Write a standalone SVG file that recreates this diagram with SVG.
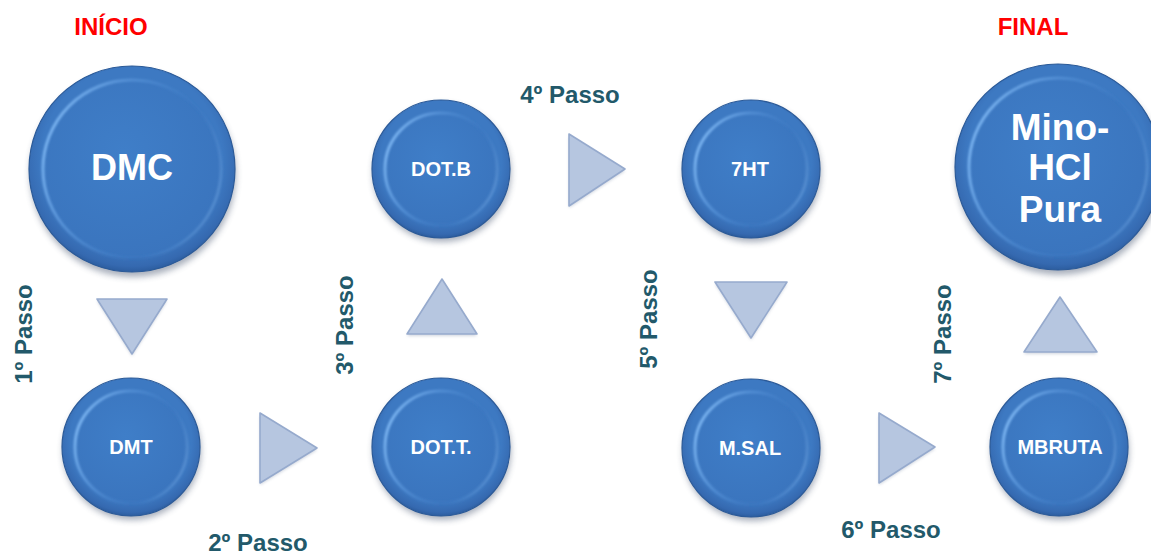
<svg xmlns="http://www.w3.org/2000/svg" width="1151" height="557" viewBox="0 0 1151 557">
  <defs>
    <style>
      .label { font-family: "Liberation Sans", Arial, sans-serif; font-weight: bold; font-size: 24px; fill: #22596a; }
      .title { font-family: "Liberation Sans", Arial, sans-serif; font-weight: bold; font-size: 24px; fill: #ff0000; text-anchor: middle; }
      .node-text { font-family: "Liberation Sans", Arial, sans-serif; font-weight: bold; fill: #ffffff; text-anchor: middle; }
      .small { font-size: 20px; }
      .big { font-size: 36px; }
      .shadow { fill: #40506a; opacity: 0.45; filter: url(#soft); }
      .rim { fill: url(#rimGrad); stroke: #2b5a98; stroke-width: 1.2; }
      .face { fill: url(#faceGrad); }
      .bevel { fill: none; stroke: url(#bevelGrad); stroke-width: 3; filter: url(#blur1); }
      .tri { fill: #b6c6e0; stroke: #96aacd; stroke-width: 1.6; stroke-linejoin: round; }
      .tri-shadow { fill: #7a8aa5; opacity: 0.35; filter: url(#soft2); }
    </style>
    <radialGradient id="rimGrad" cx="0.5" cy="0.45" r="0.55">
      <stop offset="0.8" stop-color="#3d79c2"/>
      <stop offset="0.95" stop-color="#3569b0"/>
      <stop offset="1" stop-color="#2c5d9f"/>
    </radialGradient>
    <radialGradient id="faceGrad" cx="0.45" cy="0.4" r="0.65">
      <stop offset="0" stop-color="#3f7ec8"/>
      <stop offset="1" stop-color="#3a74bd"/>
    </radialGradient>
    <linearGradient id="bevelGrad" x1="0" y1="0.3" x2="1" y2="0.7">
      <stop offset="0" stop-color="#7db6f2"/>
      <stop offset="0.35" stop-color="#5b97dc" stop-opacity="0.6"/>
      <stop offset="0.7" stop-color="#3e7cc6" stop-opacity="0.2"/>
      <stop offset="1" stop-color="#6a9fdc" stop-opacity="0.6"/>
    </linearGradient>
    <filter id="soft" x="-20%" y="-20%" width="140%" height="140%">
      <feGaussianBlur stdDeviation="3"/>
    </filter>
    <filter id="soft2" x="-20%" y="-20%" width="140%" height="140%">
      <feGaussianBlur stdDeviation="1.5"/>
    </filter>
    <filter id="blur1" x="-10%" y="-10%" width="120%" height="120%">
      <feGaussianBlur stdDeviation="0.8"/>
    </filter>
  </defs>

  <rect width="1151" height="557" fill="#ffffff"/>

  <!-- headings -->
  <text class="title" x="111" y="35">INÍCIO</text>
  <text class="title" x="1033" y="35">FINAL</text>

  <!-- step arrows -->
  <g id="connectors">
    <polygon class="tri-shadow" points="97,301 167,301 132,356"/>
    <polygon class="tri" points="97,299 167,299 132,354"/>
    <polygon class="tri-shadow" points="260,415 260,485 317,450"/>
    <polygon class="tri" points="260,413 260,483 317,448"/>
    <polygon class="tri-shadow" points="442,281 407,336 477,336"/>
    <polygon class="tri" points="442,279 407,334 477,334"/>
    <polygon class="tri-shadow" points="569,136 569,208 625,171"/>
    <polygon class="tri" points="569,134 569,206 625,169"/>
    <polygon class="tri-shadow" points="715,284 787,284 751,340"/>
    <polygon class="tri" points="715,282 787,282 751,338"/>
    <polygon class="tri-shadow" points="879,415 879,485 935,449"/>
    <polygon class="tri" points="879,413 879,483 935,447"/>
    <polygon class="tri-shadow" points="1060,299 1024,354 1097,354"/>
    <polygon class="tri" points="1060,297 1024,352 1097,352"/>
  </g>

  <!-- step labels -->
  <g id="step-labels">
    <text class="label" transform="translate(32,334) rotate(-90)" text-anchor="middle">1º Passo</text>
    <text class="label" x="258" y="551" text-anchor="middle">2º Passo</text>
    <text class="label" transform="translate(353,325) rotate(-90)" text-anchor="middle">3º Passo</text>
    <text class="label" x="570" y="103" text-anchor="middle">4º Passo</text>
    <text class="label" transform="translate(657,319) rotate(-90)" text-anchor="middle">5º Passo</text>
    <text class="label" x="891" y="538" text-anchor="middle">6º Passo</text>
    <text class="label" transform="translate(951,334) rotate(-90)" text-anchor="middle">7º Passo</text>
  </g>

  <!-- start: DMC -->
  <g id="node-dmc">
    <circle class="shadow" cx="133" cy="174" r="103"/>
    <circle class="rim" cx="132" cy="169" r="103"/>
    <circle class="face" cx="132" cy="169" r="89"/>
    <circle class="bevel" cx="132" cy="169" r="89"/>
    <text class="node-text big" x="132" y="180">DMC</text>
  </g>

  <g id="node-dmt">
    <circle class="shadow" cx="132" cy="451" r="69"/>
    <circle class="rim" cx="131" cy="447" r="69"/>
    <circle class="face" cx="131" cy="447" r="56"/>
    <circle class="bevel" cx="131" cy="447" r="56"/>
    <text class="node-text small" x="131" y="454">DMT</text>
  </g>

  <g id="node-dott">
    <circle class="shadow" cx="442" cy="451" r="69"/>
    <circle class="rim" cx="441" cy="447" r="69"/>
    <circle class="face" cx="441" cy="447" r="56"/>
    <circle class="bevel" cx="441" cy="447" r="56"/>
    <text class="node-text small" x="441" y="454">DOT.T.</text>
  </g>

  <g id="node-dotb">
    <circle class="shadow" cx="442" cy="173" r="69"/>
    <circle class="rim" cx="441" cy="169" r="69"/>
    <circle class="face" cx="441" cy="169" r="56"/>
    <circle class="bevel" cx="441" cy="169" r="56"/>
    <text class="node-text small" x="441" y="176">DOT.B</text>
  </g>

  <g id="node-7ht">
    <circle class="shadow" cx="752" cy="173" r="69"/>
    <circle class="rim" cx="751" cy="169" r="69"/>
    <circle class="face" cx="751" cy="169" r="56"/>
    <circle class="bevel" cx="751" cy="169" r="56"/>
    <text class="node-text small" x="750" y="176">7HT</text>
  </g>

  <g id="node-msal">
    <circle class="shadow" cx="752" cy="452" r="69"/>
    <circle class="rim" cx="751" cy="448" r="69"/>
    <circle class="face" cx="751" cy="448" r="56"/>
    <circle class="bevel" cx="751" cy="448" r="56"/>
    <text class="node-text small" x="750" y="455">M.SAL</text>
  </g>

  <g id="node-mbruta">
    <circle class="shadow" cx="1060" cy="451" r="69"/>
    <circle class="rim" cx="1059" cy="447" r="69"/>
    <circle class="face" cx="1059" cy="447" r="56"/>
    <circle class="bevel" cx="1059" cy="447" r="56"/>
    <text class="node-text small" x="1060" y="454">MBRUTA</text>
  </g>

  <!-- end: Mino-HCl Pura -->
  <g id="node-mino">
    <circle class="shadow" cx="1059" cy="172" r="103"/>
    <circle class="rim" cx="1058" cy="167" r="103"/>
    <circle class="face" cx="1058" cy="167" r="89"/>
    <circle class="bevel" cx="1058" cy="167" r="89"/>
    <text class="node-text" font-size="37" x="1060" y="140">Mino-</text>
    <text class="node-text" font-size="37" x="1060" y="180">HCl</text>
    <text class="node-text" font-size="37" x="1060" y="222">Pura</text>
  </g>
</svg>
